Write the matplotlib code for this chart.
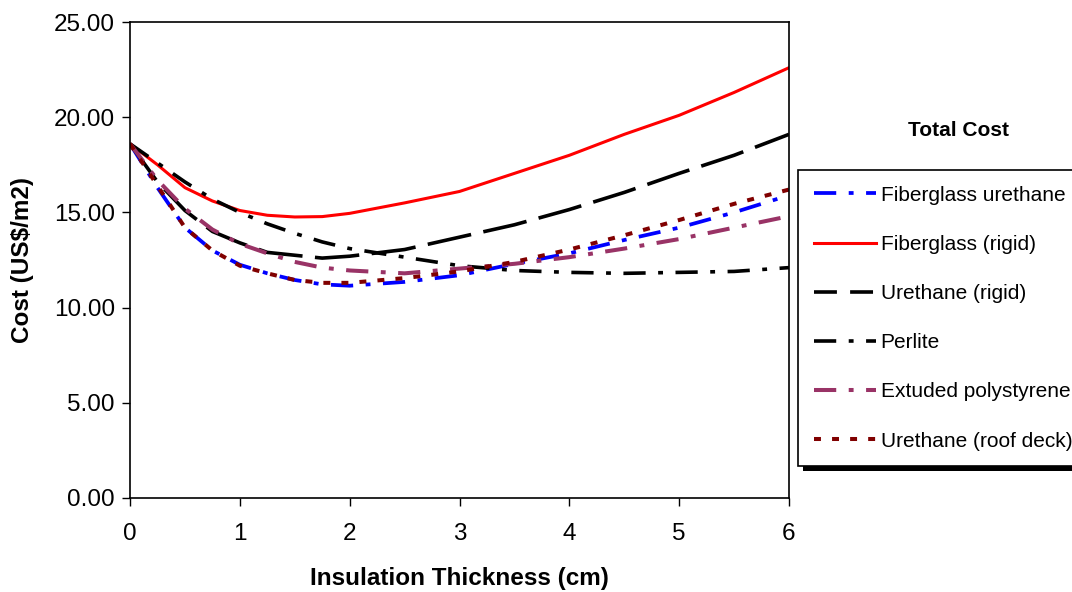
import matplotlib
matplotlib.use("Agg")
import matplotlib.pyplot as plt
import matplotlib.ticker as ticker
from matplotlib.patches import Rectangle

plt.rcParams['font.family'] = ['Liberation Sans', 'DejaVu Sans']
plt.rcParams['lines.scale_dashes'] = False

# insulation thickness (cm)
thickness = [0, 0.25, 0.5, 0.75, 1, 1.25, 1.5, 1.75, 2, 2.5, 3, 3.5, 4, 4.5, 5, 5.5, 6]

# total cost (US$/m2) per insulation type
fiberglass_urethane = [18.6, 16.3, 14.2, 13.0, 12.25, 11.8, 11.45, 11.22, 11.15, 11.35, 11.7, 12.3, 12.85, 13.55, 14.2, 15.0, 15.9]
fiberglass_rigid = [18.6, 17.5, 16.3, 15.6, 15.1, 14.85, 14.76, 14.78, 14.95, 15.5, 16.1, 17.05, 18.0, 19.1, 20.1, 21.3, 22.6]
urethane_rigid = [18.6, 16.6, 15.1, 14.0, 13.4, 12.9, 12.75, 12.6, 12.7, 13.05, 13.7, 14.35, 15.15, 16.05, 17.05, 18.0, 19.1]
perlite = [18.6, 17.6, 16.6, 15.7, 15.0, 14.4, 13.9, 13.45, 13.1, 12.65, 12.2, 11.95, 11.85, 11.8, 11.85, 11.9, 12.1]
extruded_polystyrene = [18.6, 16.7, 15.2, 14.1, 13.35, 12.85, 12.4, 12.1, 11.95, 11.8, 12.05, 12.3, 12.65, 13.1, 13.6, 14.2, 14.8]
urethane_roof_deck = [18.6, 16.4, 14.2, 13.0, 12.2, 11.8, 11.45, 11.3, 11.3, 11.55, 11.9, 12.4, 13.05, 13.8, 14.6, 15.45, 16.2]

labels = ['Fiberglass urethane', 'Fiberglass (rigid)', 'Urethane (rigid)',
          'Perlite', 'Extuded polystyrene', 'Urethane (roof deck)']

fig = plt.figure(figsize=(10.72, 5.92), dpi=100)
ax = fig.add_axes([0.1213, 0.1588, 0.6147, 0.804])

ax.plot(thickness, fiberglass_urethane, color='#0000FF', lw=2.7, dashes=[16, 9, 3.5, 9], label=labels[0])
ax.plot(thickness, fiberglass_rigid, color='#FF0000', lw=2.2, label=labels[1])
ax.plot(thickness, urethane_rigid, color='black', lw=2.6, dashes=[32, 9], label=labels[2])
ax.plot(thickness, perlite, color='black', lw=2.6, dashes=[16, 9, 3.5, 9], label=labels[3])
ax.plot(thickness, extruded_polystyrene, color='#993366', lw=2.9, dashes=[16, 9, 3.5, 9], label=labels[4])
ax.plot(thickness, urethane_roof_deck, color='#800000', lw=2.9, dashes=[5, 8], label=labels[5])

ax.set_xlim(0, 6)
ax.set_ylim(0, 25)
ax.set_xticks(range(0, 7))
ax.set_yticks([0, 5, 10, 15, 20, 25])
ax.yaxis.set_major_formatter(ticker.FormatStrFormatter('%.2f'))
ax.tick_params(direction='out', length=6, width=1, labelsize=17.5, colors='black')
ax.tick_params(axis='x', pad=12)
ax.tick_params(axis='y', pad=5)
for s in ax.spines.values():
    s.set_linewidth(1.2)
    s.set_color('black')

ax.set_xlabel('Insulation Thickness (cm)', fontsize=17.5, fontweight='bold', labelpad=16)
ax.set_ylabel('Cost (US$/m2)', fontsize=17.5, fontweight='bold', labelpad=14)

leg = fig.legend(loc='upper left', bbox_to_anchor=(798 / 1072, 1 - 170 / 592),
                 fontsize=15, frameon=True, fancybox=False, shadow=False,
                 framealpha=1, facecolor='white',
                 handlelength=3.0, handletextpad=0.22, labelspacing=1.45,
                 borderpad=0.75, borderaxespad=0)
leg.get_frame().set_edgecolor('black')
leg.get_frame().set_linewidth(1.2)
leg.get_lines()[2].set_dashes([16.5, 9.5])
leg.set_zorder(5)

# solid black drop shadow behind the legend box
fig.canvas.draw()
bb = leg.get_window_extent()
shadow = Rectangle((bb.x0 + 5, bb.y0 - 5), bb.width, bb.height, transform=None,
                   facecolor='black', edgecolor='none', zorder=4)
fig.patches.append(shadow)

fig.text(958 / 1072, 1 - 130 / 592, 'Total Cost', fontsize=15, fontweight='bold',
         ha='center', va='center')

plt.savefig('out.png', dpi=100)
